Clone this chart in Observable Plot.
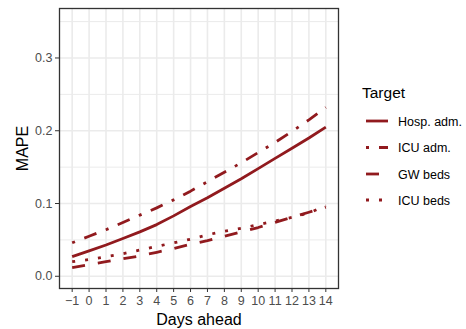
<!DOCTYPE html>
<html>
<head>
<meta charset="utf-8">
<script src="https://cdn.jsdelivr.net/npm/d3@7"></script>
<script src="https://cdn.jsdelivr.net/npm/@observablehq/plot@0.6"></script>
<style>
  html, body { margin: 0; padding: 0; background: #fff; }
  #wrap { position: relative; width: 466px; height: 329px; font-family: "Liberation Sans", Arial, Helvetica, sans-serif; }
  #wrap svg { position: absolute; left: 0; top: 0; }
  #wrap [aria-label="x-axis label"] text, #wrap [aria-label="y-axis label"] text,
  #wrap g[aria-label="x-axis label"], #wrap g[aria-label="y-axis label"] { font-size: 16px; fill: #000; }
</style>
</head>
<body>
<div id="wrap"></div>
<script>
const days = [-1,0,1,2,3,4,5,6,7,8,9,10,11,12,13,14];
const targets = ["Hosp. adm.", "ICU adm.", "GW beds", "ICU beds"];
const hospAdm = [0.027,0.035,0.043,0.052,0.061,0.071,0.083,0.096,0.108,0.121,0.134,0.148,0.162,0.176,0.190,0.205];
const icuAdm  = [0.046,0.055,0.064,0.074,0.084,0.094,0.105,0.117,0.130,0.143,0.156,0.170,0.184,0.199,0.215,0.232];
const gwBeds  = [0.012,0.016,0.020,0.024,0.028,0.033,0.038,0.044,0.049,0.055,0.061,0.067,0.074,0.081,0.088,0.095];
const icuBeds = [0.020,0.023,0.027,0.031,0.036,0.041,0.046,0.051,0.057,0.062,0.066,0.071,0.076,0.081,0.087,0.097];
const yTicks = [0.0, 0.1, 0.2, 0.3];
const yMinor = [0.05, 0.15, 0.25, 0.35];

const seriesValues = [hospAdm, icuAdm, gwBeds, icuBeds];
const dashes = ["none", "3,10,13,10", "13,13", "3,10"];
const color = "#911a1e";
const lw = 2.8;

const rows = [];
targets.forEach((t, i) => days.forEach((d, j) => rows.push({day: d, mape: seriesValues[i][j], target: t})));

const W = 466, H = 329;
const mL = 59, mT = 8, mR = 128, mB = 41;

const lineMarks = targets.map((t, i) => Plot.line(rows.filter(r => r.target === t), {
  x: "day", y: "mape", stroke: color, strokeWidth: lw,
  strokeDasharray: dashes[i] === "none" ? undefined : dashes[i],
  strokeLinecap: "butt", strokeLinejoin: "round"
}));

const chart = Plot.plot({
  width: W, height: H,
  marginLeft: mL, marginTop: mT, marginRight: mR, marginBottom: mB,
  style: {fontFamily: '"Liberation Sans", Arial, Helvetica, sans-serif', fontSize: "12.5px", background: "transparent"},
  x: {domain: [-1.75, 14.75]},
  y: {domain: [-0.0168, 0.368]},
  marks: [
    Plot.gridY(yMinor, {stroke: "#ebebeb", strokeOpacity: 1, strokeWidth: 1}),
    Plot.gridY(yTicks, {stroke: "#ebebeb", strokeOpacity: 1, strokeWidth: 1.6}),
    Plot.gridX(days, {stroke: "#ebebeb", strokeOpacity: 1, strokeWidth: 1.6}),
    ...lineMarks,
    Plot.frame({stroke: "#333333", strokeWidth: 1.3}),
    Plot.axisX(days, {tickSize: 4, tickPadding: 4, stroke: "#333333", fill: "#4d4d4d",
      tickFormat: d => (d < 0 ? "\u2212" + Math.abs(d) : String(d)),
      label: "Days ahead", labelAnchor: "center", labelArrow: "none", labelOffset: 36}),
    Plot.axisY(yTicks, {tickSize: 4, tickPadding: 3, stroke: "#333333", fill: "#4d4d4d",
      tickFormat: d3.format(".1f"),
      label: "MAPE", labelAnchor: "center", labelArrow: "none", labelOffset: 43})
  ]
});
document.getElementById("wrap").appendChild(chart);

// Legend
const ns = "http://www.w3.org/2000/svg";
const leg = document.createElementNS(ns, "svg");
leg.setAttribute("width", W); leg.setAttribute("height", H);
leg.style.fontFamily = '"Liberation Sans", Arial, Helvetica, sans-serif';
const title = document.createElementNS(ns, "text");
title.setAttribute("x", 362); title.setAttribute("y", 98);
title.setAttribute("font-size", "15.5px"); title.setAttribute("fill", "#000");
title.textContent = "Target";
leg.appendChild(title);
const rowY = [121, 147.5, 174, 200];
targets.forEach((t, i) => {
  const l = document.createElementNS(ns, "line");
  l.setAttribute("x1", 366); l.setAttribute("x2", 388);
  l.setAttribute("y1", rowY[i]); l.setAttribute("y2", rowY[i]);
  l.setAttribute("stroke", color); l.setAttribute("stroke-width", lw);
  if (dashes[i] !== "none") l.setAttribute("stroke-dasharray", dashes[i]);
  leg.appendChild(l);
  const tx = document.createElementNS(ns, "text");
  tx.setAttribute("x", 398); tx.setAttribute("y", rowY[i] + 4.5);
  tx.setAttribute("font-size", "12.5px"); tx.setAttribute("fill", "#000");
  tx.textContent = t;
  leg.appendChild(tx);
});
document.getElementById("wrap").appendChild(leg);
</script>
</body>
</html>
